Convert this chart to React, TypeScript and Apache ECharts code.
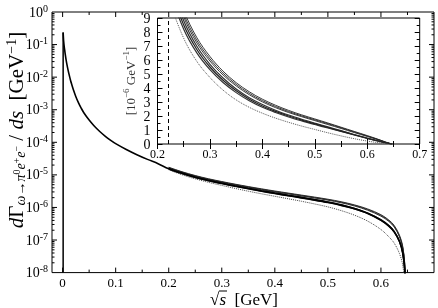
import React, { useEffect, useRef } from 'react';
import * as echarts from 'echarts';

// ---- data (sqrt(s) in GeV, rate dGamma/ds in GeV^-1) ----
const threshold = 0.001;
const sLow = [0.001, 0.0015, 0.002, 0.003, 0.004, 0.005, 0.0065, 0.008, 0.01, 0.0125, 0.015, 0.0175, 0.02, 0.025, 0.03, 0.035, 0.04, 0.05, 0.06, 0.07, 0.08, 0.09, 0.1, 0.12, 0.14, 0.16, 0.18];
const rateLow = [0.234, 0.166, 0.126, 0.087, 0.066, 0.05, 0.0347, 0.0251, 0.0174, 0.0115, 0.0079, 0.00575, 0.00427, 0.00251, 0.00162, 0.00112, 0.00081, 0.00048, 0.00031, 0.000214, 0.000155, 0.000117, 0.0000912, 0.0000603, 0.0000417, 0.0000299, 0.000022];

const sTail = [0.2, 0.225, 0.25, 0.275, 0.3, 0.325, 0.35, 0.375, 0.4, 0.425, 0.45, 0.475, 0.5, 0.525, 0.55, 0.575, 0.6, 0.615, 0.625, 0.635, 0.641, 0.645, 0.6477];
// tail values in units of 1e-6 GeV^-1
const curveA = [15.5, 11.2, 8.5, 6.75, 5.5, 4.55, 3.8, 3.2, 2.72, 2.33, 2.0, 1.71, 1.44, 1.18, 0.92, 0.66, 0.41, 0.27, 0.18, 0.09, 0.04, 0.011, 0.001];
const curveB = [16.0, 11.6, 8.8, 6.98, 5.69, 4.71, 3.93, 3.31, 2.82, 2.41, 2.07, 1.77, 1.49, 1.22, 0.95, 0.68, 0.425, 0.28, 0.186, 0.093, 0.041, 0.0114, 0.001];
const curveC = [15.0, 10.8, 8.2, 6.51, 5.31, 4.39, 3.67, 3.09, 2.62, 2.25, 1.93, 1.65, 1.39, 1.14, 0.89, 0.64, 0.395, 0.26, 0.174, 0.087, 0.039, 0.0106, 0.001];
const curveT1 = [17.2, 12.5, 9.55, 7.6, 6.25, 5.2, 4.38, 3.73, 3.2, 2.77, 2.4, 2.08, 1.79, 1.5, 1.2, 0.9, 0.6, 0.41, 0.28, 0.14, 0.065, 0.018, 0.001];
const curveT2 = [16.8, 12.2, 9.3, 7.4, 6.08, 5.06, 4.26, 3.62, 3.1, 2.68, 2.32, 2.01, 1.73, 1.45, 1.16, 0.86, 0.57, 0.39, 0.265, 0.13, 0.06, 0.017, 0.001];
const curveT3 = [16.4, 11.9, 9.08, 7.22, 5.93, 4.93, 4.15, 3.52, 3.01, 2.6, 2.25, 1.95, 1.67, 1.39, 1.11, 0.82, 0.54, 0.37, 0.25, 0.125, 0.057, 0.016, 0.001];
const curveDot = [14.3, 10.1, 7.55, 5.9, 4.75, 3.85, 3.15, 2.62, 2.2, 1.85, 1.55, 1.28, 1.04, 0.8, 0.58, 0.38, 0.21, 0.125, 0.08, 0.038, 0.017, 0.0045, 0.001];

const insetThreshold = 0.2244;

// ticks
const xLabels = [0, 0.1, 0.2, 0.3, 0.4, 0.5, 0.6];
const xMajorTicks = [0, 0.1, 0.2, 0.3, 0.4, 0.5, 0.6];
const xMinorTicks = [0.05, 0.15, 0.25, 0.35, 0.45, 0.55, 0.65];
const yMajorTicks = [1e-7, 1e-6, 1e-5, 1e-4, 1e-3, 1e-2, 1e-1];
const yDecades = [-8, -7, -6, -5, -4, -3, -2, -1];
const yMinorMantissas = [2, 3, 4, 5, 6, 7, 8, 9];

const FONT = '"Liberation Serif", "DejaVu Serif", serif';
const X_MIN = -0.02, X_MAX = 0.7, Y_MIN = 1e-8, Y_MAX = 1;

export default function App() {
  const ref = useRef<HTMLDivElement>(null);
  useEffect(() => {
    if (!ref.current) return;
    const chart = echarts.init(ref.current, undefined, { renderer: 'svg' });

    const scale = 1e-6;
    const tailMain = (arr: number[]) => sTail.map((s, i) => [s, arr[i] * scale]);
    const tailInset = (arr: number[]) => sTail.map((s, i) => [s, arr[i]]);
    const mainA = [...sLow.map((s, i) => [s, rateLow[i]]), ...tailMain(curveA)];

    const yMinor: number[] = [];
    yDecades.forEach(d => yMinorMantissas.forEach(m => yMinor.push(m * Math.pow(10, d))));

    const xTickData = [
      ...xMajorTicks.map(v => [v, 1e-4, 5]),
      ...xMinorTicks.map(v => [v, 1e-4, 3]),
    ];
    const yTickData = [
      ...yMajorTicks.map(v => [0.3, v, 5]),
      ...yMinor.map(v => [0.3, v, 2.5]),
    ];

    const tickStyle = { stroke: '#000', lineWidth: 1 };

    const lineBase = {
      type: 'line', showSymbol: false, symbol: 'none', smooth: 0.35,
      clip: true, silent: true,
    };

    const mainSeries = [
      { ...lineBase, xAxisIndex: 0, yAxisIndex: 0, data: [[threshold, Y_MIN], [threshold, rateLow[0]]], smooth: false, lineStyle: { color: '#000', width: 1.5 } },
      { ...lineBase, xAxisIndex: 0, yAxisIndex: 0, data: tailMain(curveT1), lineStyle: { color: '#222', width: 0.9 } },
      { ...lineBase, xAxisIndex: 0, yAxisIndex: 0, data: tailMain(curveT2), lineStyle: { color: '#222', width: 0.9 } },
      { ...lineBase, xAxisIndex: 0, yAxisIndex: 0, data: tailMain(curveT3), lineStyle: { color: '#222', width: 0.9 } },
      { ...lineBase, xAxisIndex: 0, yAxisIndex: 0, data: tailMain(curveB), lineStyle: { color: '#111', width: 1.1 } },
      { ...lineBase, xAxisIndex: 0, yAxisIndex: 0, data: tailMain(curveC), lineStyle: { color: '#111', width: 1.1 } },
      { ...lineBase, xAxisIndex: 0, yAxisIndex: 0, data: tailMain(curveDot), lineStyle: { color: '#444', width: 1, type: 'dotted' } },
      { ...lineBase, xAxisIndex: 0, yAxisIndex: 0, data: mainA, lineStyle: { color: '#000', width: 1.6 } },
    ];

    const insetSeries = [
      { ...lineBase, xAxisIndex: 1, yAxisIndex: 1, data: tailInset(curveT1), lineStyle: { color: '#222', width: 0.9 } },
      { ...lineBase, xAxisIndex: 1, yAxisIndex: 1, data: tailInset(curveT2), lineStyle: { color: '#222', width: 0.9 } },
      { ...lineBase, xAxisIndex: 1, yAxisIndex: 1, data: tailInset(curveT3), lineStyle: { color: '#222', width: 0.9 } },
      { ...lineBase, xAxisIndex: 1, yAxisIndex: 1, data: tailInset(curveB), lineStyle: { color: '#333', width: 1.2 } },
      { ...lineBase, xAxisIndex: 1, yAxisIndex: 1, data: tailInset(curveC), lineStyle: { color: '#333', width: 1.2 } },
      { ...lineBase, xAxisIndex: 1, yAxisIndex: 1, data: tailInset(curveDot), lineStyle: { color: '#555', width: 1, type: 'dotted' } },
      {
        ...lineBase, xAxisIndex: 1, yAxisIndex: 1, data: tailInset(curveA), lineStyle: { color: '#222', width: 1.2 },
        markLine: {
          silent: true, symbol: 'none', label: { show: false },
          lineStyle: { color: '#000', width: 1, type: [4, 3] },
          data: [{ xAxis: insetThreshold }],
        },
      },
    ];

    const tickSeries = [
      {
        type: 'custom', xAxisIndex: 0, yAxisIndex: 0, silent: true, clip: false,
        data: xTickData, encode: { x: 0, y: 1 },
        renderItem: (_p: any, api: any) => {
          const x = api.value(0); const len = api.value(2);
          const b = api.coord([x, Y_MIN]); const t = api.coord([x, Y_MAX]);
          return {
            type: 'group', children: [
              { type: 'line', shape: { x1: b[0], y1: b[1], x2: b[0], y2: b[1] - len }, style: tickStyle },
              { type: 'line', shape: { x1: t[0], y1: t[1], x2: t[0], y2: t[1] + len }, style: tickStyle },
            ],
          };
        },
      },
      {
        type: 'custom', xAxisIndex: 0, yAxisIndex: 0, silent: true, clip: false,
        data: yTickData, encode: { x: 0, y: 1 },
        renderItem: (_p: any, api: any) => {
          const y = api.value(1); const len = api.value(2);
          const l = api.coord([X_MIN, y]); const r = api.coord([X_MAX, y]);
          return {
            type: 'group', children: [
              { type: 'line', shape: { x1: l[0], y1: l[1], x2: l[0] + len, y2: l[1] }, style: tickStyle },
              { type: 'line', shape: { x1: r[0], y1: r[1], x2: r[0] - len, y2: r[1] }, style: tickStyle },
            ],
          };
        },
      },
    ];

    const insetAxisCommon = {
      axisLine: { show: false },
      axisTick: { show: true, inside: true, length: 5, lineStyle: { color: '#000' } },
      minorTick: { show: true, splitNumber: 2, length: 3, lineStyle: { color: '#000' } },
      splitLine: { show: false },
    };

    chart.setOption({
      animation: false,
      grid: [
        { left: 52, top: 12, width: 382, height: 260.6, show: true, borderColor: '#000', borderWidth: 1, backgroundColor: 'transparent' },
        { left: 157.5, top: 18, width: 262.2, height: 126, show: true, borderColor: '#000', borderWidth: 1, backgroundColor: '#fff' },
      ],
      xAxis: [
        {
          gridIndex: 0, type: 'value', min: X_MIN, max: X_MAX,
          axisLine: { show: false }, axisTick: { show: false }, splitLine: { show: false },
          axisLabel: { customValues: xLabels, formatter: (v: number) => String(v), fontFamily: FONT, fontSize: 13, color: '#000', margin: 3 },
        },
        {
          gridIndex: 1, type: 'value', min: 0.2, max: 0.7, interval: 0.1, position: 'bottom', ...insetAxisCommon,
          axisLabel: { formatter: (v: number) => v.toFixed(1), fontFamily: FONT, fontSize: 12, color: '#000', margin: 4 },
        },
        {
          gridIndex: 1, type: 'value', min: 0.2, max: 0.7, interval: 0.1, position: 'top', ...insetAxisCommon,
          axisLabel: { show: false },
        },
      ],
      yAxis: [
        {
          gridIndex: 0, type: 'log', logBase: 10, min: Y_MIN, max: Y_MAX, splitNumber: 8,
          axisLine: { show: false }, axisTick: { show: false }, splitLine: { show: false },
          axisLabel: {
            formatter: (v: number) => `{b|10}{e|${Math.round(Math.log10(v))}}`,
            margin: 4, color: '#000',
            rich: {
              b: { fontFamily: FONT, fontSize: 14, color: '#000' },
              e: { fontFamily: FONT, fontSize: 10, color: '#000', padding: [0, 0, 8, 0] },
            },
          },
        },
        {
          gridIndex: 1, type: 'value', min: 0, max: 9, interval: 1, position: 'left', ...insetAxisCommon,
          axisLabel: { fontFamily: FONT, fontSize: 14, color: '#000', margin: 7 },
        },
        {
          gridIndex: 1, type: 'value', min: 0, max: 9, interval: 1, position: 'right', ...insetAxisCommon,
          axisLabel: { show: false },
        },
      ],
      series: [...mainSeries, ...tickSeries, ...insetSeries],
      graphic: [
        {
          type: 'text', x: 16, y: 130, rotation: Math.PI / 2,
          style: {
            text: '{i|d}{n|Γ}{sub|ω→π}{ss|0}{sub|e}{ss|+}{sub|e}{ss|−}{n| / }{i|ds}{n|  [GeV}{sup|−1}{n|]}',
            align: 'center', verticalAlign: 'middle', fill: '#000',
            rich: {
              i: { fontFamily: FONT, fontSize: 21, fontStyle: 'italic', fill: '#000' },
              n: { fontFamily: FONT, fontSize: 21, fill: '#000' },
              sub: { fontFamily: FONT, fontSize: 14, fontStyle: 'italic', fill: '#000', padding: [9, 0, 0, 0] },
              ss: { fontFamily: FONT, fontSize: 10, fill: '#000', padding: [0, 0, 0, 0] },
              sup: { fontFamily: FONT, fontSize: 14, fill: '#000', padding: [0, 0, 10, 0] },
            },
          },
        },
        {
          type: 'text', x: 130, y: 81, rotation: Math.PI / 2,
          style: {
            text: '{n|[10}{sup|−6}{n| GeV}{sup|−1}{n|]}',
            align: 'center', verticalAlign: 'middle', fill: '#333',
            rich: {
              n: { fontFamily: FONT, fontSize: 13, fill: '#333' },
              sup: { fontFamily: FONT, fontSize: 9, fill: '#333', padding: [0, 0, 8, 0] },
            },
          },
        },
        {
          type: 'text', x: 244, y: 299.5,
          style: {
            text: '{n|√}{i|s}{n|  [GeV]}',
            align: 'center', verticalAlign: 'middle', fill: '#000',
            rich: {
              i: { fontFamily: FONT, fontSize: 17, fontStyle: 'italic', fill: '#000' },
              n: { fontFamily: FONT, fontSize: 17, fill: '#000' },
            },
          },
        },
        {
          type: 'line', shape: { x1: 219, y1: 291, x2: 227, y2: 291 },
          style: { stroke: '#000', lineWidth: 1 },
        },
      ],
    });
    return () => chart.dispose();
  }, []);
  return <div ref={ref} style={{ position: 'fixed', left: 0, top: 0, width: 438, height: 308 }} />;
}
